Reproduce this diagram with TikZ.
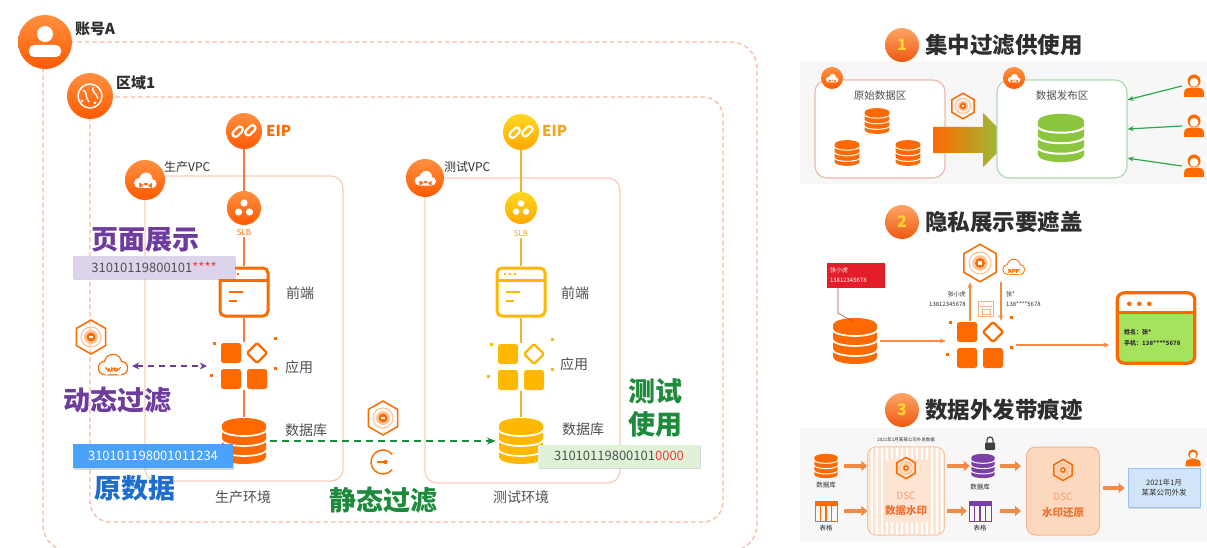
\documentclass[tikz,border=0pt]{standalone}
\usepackage{fontspec}
\setmainfont{Noto Sans CJK SC}
\usetikzlibrary{arrows.meta,shadows}

\definecolor{ali}{HTML}{FF6A00}
\definecolor{alitop}{HTML}{FF9040}
\definecolor{alibot}{HTML}{FF5A00}
\definecolor{framec}{HTML}{F9BBA2}
\definecolor{vpcc}{HTML}{FBCDBD}
\definecolor{ylw}{HTML}{FFB800}
\definecolor{ylwtop}{HTML}{FFD820}
\definecolor{ylwbot}{HTML}{FFA800}
\definecolor{ylwline}{HTML}{E9B730}
\definecolor{ylwtxt}{HTML}{F6A418}
\definecolor{prodline}{HTML}{F07A40}
\definecolor{purp}{HTML}{6E3C9C}
\definecolor{purp3}{HTML}{7B3FA8}
\definecolor{lav}{HTML}{DDD3EB}
\definecolor{bluebox}{HTML}{4AA2FA}
\definecolor{bluetxt}{HTML}{1F6DCC}
\definecolor{grn}{HTML}{1E8A3B}
\definecolor{grnbox}{HTML}{DFF2D8}
\definecolor{garr}{HTML}{2BA84A}
\definecolor{redt}{HTML}{EE3B3B}
\definecolor{redlab}{HTML}{E31E2A}
\definecolor{dark}{HTML}{2E2E2E}
\definecolor{gtxt}{HTML}{505050}
\definecolor{lime}{HTML}{8CC63F}
\definecolor{olive}{HTML}{D8A530}
\definecolor{arrowo}{HTML}{F58A45}
\definecolor{badgetop}{HTML}{FFA466}
\definecolor{badgebot}{HTML}{EE5A12}
\definecolor{badgetxt}{HTML}{FFD530}
\definecolor{srcc}{HTML}{EBB9B0}
\definecolor{dstc}{HTML}{AFD9B2}
\definecolor{wmfill}{HTML}{FDE4D3}
\definecolor{wmline}{HTML}{F7C4A6}
\definecolor{rstfill}{HTML}{FCD8BF}
\definecolor{rstline}{HTML}{F6B58C}
\definecolor{dscl}{HTML}{F7A070}
\definecolor{dscd}{HTML}{F07030}
\definecolor{blfill}{HTML}{D0E5F8}
\definecolor{blline}{HTML}{9DC3EA}
\definecolor{scrn}{HTML}{A6E35C}
\definecolor{docc}{HTML}{F3B08A}
\definecolor{thread}{HTML}{A05040}

\newcommand\fsz[1]{\fontsize{#1}{#1}\selectfont}

\tikzset{
  % database stack: colour, separator width
  pics/dbstack/.style n args={2}{code={
    \fill[#1] (-22,-16) -- (-22,16) arc[start angle=180,end angle=0,x radius=22,y radius=7]
      -- (22,-16) arc[start angle=0,end angle=-180,x radius=22,y radius=7] -- cycle;
    \foreach \yy in {-12,-2,8}
      \draw[white,line width=#2] (-23,\yy) arc[start angle=180,end angle=0,x radius=23,y radius=7];
  }},
  % application blocks: colour, diamond line width
  pics/appblk/.style n args={2}{code={
    \fill[#1,rounded corners=2.5pt] (-23,-23) rectangle (-3,-3);
    \fill[#1,rounded corners=2.5pt] (-23,3) rectangle (-3,23);
    \fill[#1,rounded corners=2.5pt] (3,3) rectangle (23,23);
    \draw[#1,line width=#2,rounded corners=1.5pt] (13,-23) -- (23,-13) -- (13,-3) -- (3,-13) -- cycle;
    \foreach \p in {(-30,-23),(31,-28),(31,2),(-33,9)}
      \fill[#1] \p ++(-1.5,-1.5) rectangle ++(3,3);
  }},
  % web front end window: colour, frame width
  pics/webwin/.style n args={2}{code={
    \draw[#1,line width=#2,rounded corners=5pt,fill=white] (-24,-24) rectangle (24,24);
    \draw[#1,line width=#2] (-24,-12) -- (24,-12);
    \draw[#1,line width=2.4pt] (-15,0) -- (-1,0) (-15,9) -- (-7,9);
    \foreach \xx in {-16,-11,-6} \fill[#1] (\xx,-18) circle (1.4);
  }},
  % security hexagon
  pics/hexic/.style={code={
    \draw[ali,line width=1.5pt] (90:17) -- (150:17) -- (210:17) -- (270:17) -- (330:17) -- (30:17) -- cycle;
    \draw[ali!45,line width=1pt] (0,0) circle (10);
    \fill[ali!40] (0,0) circle (7);
    \fill[ali] (0,0) circle (4.5);
    \fill[white] (-1.8,-1.4) rectangle (1.8,1.4);
  }},
  % cloud with APP
  pics/cloudapp/.style={code={
    \fill[ali] (-7,2) circle (7.3) (1,-3) circle (9.3) (9,2) circle (7.3) (-7,-0.3) rectangle (9,9.3);
    \fill[white] (-7,2) circle (6) (1,-3) circle (8) (9,2) circle (6) (-7,1) rectangle (9,8);
    \node[text=ali,font=\fsz{5.5}\bfseries,inner sep=0pt] (-lbl) at (1,4) {APP};
  }},
  % user figure
  pics/userp/.style={code={
    \fill[#1] (0,-5) circle (6.5);
    \fill[white] (0,-3.6) circle (4.4);
    \fill[#1] (-10,11) -- (-10,7) .. controls (-10,2) and (-6,1.5) .. (0,1.5)
      .. controls (6,1.5) and (10,2) .. (10,7) -- (10,11) -- cycle;
  }},
  % table
  pics/tbl/.style={code={
    \draw[#1,line width=1pt] (-11,-10) rectangle (11,10);
    \fill[#1] (-11,-10) rectangle (11,-5);
    \foreach \xx in {-5.5,0,5.5} \draw[#1,line width=1.3pt] (\xx,-5) -- (\xx,10);
  }},
  % padlock
  pics/lockp/.style={code={
    \draw[black!70,line width=1.3pt] (-3,0) -- (-3,-3) arc[start angle=180,end angle=360,radius=3] -- (3,0);
    \fill[black!75,rounded corners=1pt] (-5,-0.5) rectangle (5,7);
  }},
  % restore / import ring
  pics/gimport/.style={code={
    \draw[ali,line width=1.4pt] (40:12) arc[start angle=40,end angle=320,radius=12];
    \draw[ali,line width=1.4pt] (-6,0) -- (2,0);
    \fill[ali] (2.5,0) circle (2.2);
  }},
  % white glyphs for round badges
  pics/gperson/.style={code={
    \fill[white] (0,-8) circle (8);
    \fill[white,rounded corners=5pt] (-16,3) rectangle (16,15);
  }},
  pics/gglobe/.style={code={
    \draw[white,line width=1.5pt] (0,0) circle (12);
    \draw[white,line width=1.3pt] (-7,-6) .. controls (-2,-4) and (-5,2) .. (-1,6)
      (3,-9) .. controls (1,-4) and (7,-3) .. (8,3);
    \fill[white] (-8,5) circle (1.5) (5,7) circle (1.5);
  }},
  pics/gcloud/.style={code={
    \fill[white] (-6,3) circle (5) (1,-1) circle (6.5) (7,3.5) circle (4.5) (-6,3) rectangle (7,8);
  }},
  pics/geip/.style={code={
    \begin{scope}[rotate=45]
      \draw[white,line width=2.2pt,rounded corners=3pt] (-11,-7) rectangle (1,-1);
      \draw[white,line width=2.2pt,rounded corners=3pt] (-1,1) rectangle (11,7);
    \end{scope}
  }},
  pics/gslb/.style={code={
    \fill[white] (0,-5) circle (3.6) (-5.5,4) circle (3.6) (5.5,4) circle (3.6);
  }},
}

\begin{document}
\begin{tikzpicture}[x=1pt,y=-1pt,
  frame/.style={draw=framec,dash pattern=on 4.5pt off 3pt,line width=1.3pt},
  vpcbox/.style={draw=vpcc,line width=1.3pt,rounded corners=12pt},
  iconc/.style={circle,inner sep=0pt,top color=alitop,bottom color=alibot,draw=none},
  iconcy/.style={circle,inner sep=0pt,top color=ylwtop,bottom color=ylwbot,draw=none},
  slot/.style={inner sep=0pt,minimum size=#1},
  dbslot/.style={inner sep=0pt,minimum width=46pt,minimum height=48pt},
  lab/.style={inner sep=0pt,text=gtxt,font=\fsz{14}},
  bigt/.style={inner sep=0pt,font=\fsz{27}\bfseries},
  pline/.style={draw=prodline,line width=2.4pt},
  yline/.style={draw=ylwline,line width=2.4pt},
  oarrow/.style={draw=arrowo,line width=1.3pt,-{Stealth[length=6pt,width=5pt]}},
  fatarrow/.style={draw=arrowo,line width=3.5pt,-{Triangle[length=6pt,width=10pt]}},
  garrow/.style={draw=garr,line width=1.2pt,-{Stealth[length=6pt,width=5pt]}},
  badge/.style={circle,inner sep=0pt,minimum size=34pt,top color=badgetop,bottom color=badgebot,
    text=badgetxt,font=\fsz{16}\bfseries},
  ttl/.style={anchor=west,inner sep=0pt,font=\fsz{22.5}\bfseries,text=dark},
  tiny/.style={inner sep=0pt,font=\fsz{6.5},text=dark},
  databox/.style={inner sep=0pt,minimum width=162pt,minimum height=23pt,font=\fsz{13},
    drop shadow={shadow xshift=0.6pt,shadow yshift=-1.5pt,opacity=0.3}},
]
\useasboundingbox (0,0) rectangle (1207,548);
\fill[white] (0,0) rectangle (1207,548);

% ===================== account / region / VPC frames =====================
\draw[frame,rounded corners=26pt] (43,42) rectangle (757,551);
\draw[frame,rounded corners=20pt] (90,97) rectangle (723,522);
\draw[vpcbox] (145,176) rectangle (343,481);
\draw[vpcbox] (425,178) rectangle (620,483);

\node[iconc,minimum size=54pt] (acct) at (45,42) {};
\pic at (acct) {gperson};
\node[anchor=west,inner sep=0pt,font=\fsz{15}\bfseries,text=dark] (acctl) at (75,29) {账号A};
\node[iconc,minimum size=46pt] (region) at (90,96) {};
\pic at (region) {gglobe};
\node[anchor=west,inner sep=0pt,font=\fsz{15}\bfseries,text=dark] (regionl) at (116,83) {区域1};
\node[iconc,minimum size=40pt] (pvpc) at (145,180) {};
\pic at (pvpc) {gcloud};
\node[anchor=west,inner sep=0pt,font=\fsz{12},text=dark] (pvpcl) at (164,167) {生产VPC};
\node[iconc,minimum size=38pt] (tvpc) at (425,178) {};
\pic[scale=0.95] at (tvpc) {gcloud};
\node[anchor=west,inner sep=0pt,font=\fsz{12},text=dark] (tvpcl) at (444,167) {测试VPC};

% ===================== production stack =====================
\node[iconc,minimum size=36pt] (peip) at (244,131) {};
\pic at (peip) {geip};
\node[anchor=west,inner sep=0pt,font=\fsz{15}\bfseries,text=ali] (peipl) at (266,131) {EIP};
\node[iconc,minimum size=34pt] (pslb) at (244,208) {};
\pic at (pslb) {gslb};
\node[inner sep=1pt,font=\fsz{8},text=ali] (pslbl) at (244,233) {SLB};
\node[slot=52pt] (pfront) at (244,292) {};
\node[slot=48pt] (papp) at (244,366) {};
\node[dbslot] (pdb) at (244,441) {};
\draw[pline] (peip) -- (pslb);
\draw[pline] (pslbl) -- (pfront);
\draw[pline] (pfront) -- (papp);
\draw[pline] (papp) -- (pdb);
\pic at (pfront) {webwin={ali}{3pt}};
\pic at (papp) {appblk={ali}{2.2pt}};
\pic at (pdb) {dbstack={ali}{1.7pt}};
\node[lab] (pfrontl) at (300,293) {前端};
\node[lab] (pappl) at (299,367) {应用};
\node[lab] (pdbl) at (306,430) {数据库};
\node[lab] (penv) at (243,497) {生产环境};

% ===================== test stack =====================
\node[iconcy,minimum size=36pt] (teip) at (521,132) {};
\pic at (teip) {geip};
\node[anchor=west,inner sep=0pt,font=\fsz{15}\bfseries,text=ylwtxt] (teipl) at (542,131) {EIP};
\node[iconcy,minimum size=32pt] (tslb) at (521,208) {};
\pic[scale=0.9] at (tslb) {gslb};
\node[inner sep=1pt,font=\fsz{8},text=ylwtxt] (tslbl) at (521,234) {SLB};
\node[slot=52pt] (tfront) at (521,292) {};
\node[slot=48pt] (tapp) at (521,367) {};
\node[dbslot] (tdb) at (521,441) {};
\draw[yline] (teip) -- (tslb);
\draw[yline] (tslbl) -- (tfront);
\draw[yline] (tfront) -- (tapp);
\draw[yline] (tapp) -- (tdb);
\pic at (tfront) {webwin={ylw}{3pt}};
\pic at (tapp) {appblk={ylw}{2.2pt}};
\pic at (tdb) {dbstack={ylw}{1.7pt}};
\node[lab] (tfrontl) at (575,293) {前端};
\node[lab] (tappl) at (574,364) {应用};
\node[lab] (tdbl) at (583,429) {数据库};
\node[lab] (tenv) at (521,497) {测试环境};

% ===================== static filtering =====================
\node[slot=36pt] (shex) at (383,418) {};
\pic at (shex) {hexic};
\node[slot=28pt] (srot) at (383,462) {};
\pic at (srot) {gimport};
\draw[grn,line width=2pt,dash pattern=on 7pt off 5pt,-{Stealth[length=9pt,width=7pt]}]
  ([xshift=3pt]pdb.east) -- ([xshift=-2pt]tdb.west);
\node[bigt,text=grn] (sfilt) at (383,500) {静态过滤};

% ===================== dynamic filtering =====================
\node[slot=34pt] (dhex) at (91,337) {};
\pic at (dhex) {hexic};
\node[slot=32pt] (dapp) at (112,366) {};
\pic at (dapp) {cloudapp};
\draw[purp,line width=1.8pt,dash pattern=on 6pt off 5pt,
  {Stealth[length=7pt,width=7pt]}-{Stealth[length=7pt,width=7pt]},shorten <=4pt,shorten >=13pt]
  (dapp.east) -- (papp.west);

% ===================== data samples and captions =====================
\node[databox,fill=lav,text=gtxt] (maskbox) at (154,267) {31010119800101\textcolor{redt}{****}};
\node[databox,fill=bluebox,text=white,minimum width=160pt,minimum height=24pt] (rawbox) at (153,456) {310101198001011234};
\node[databox,fill=grnbox,text=gtxt] (testbox) at (619,456) {31010119800101\textcolor{redt}{0000}};
\node[bigt,text=purp] (pageshow) at (145,240) {页面展示};
\node[bigt,text=purp] (dynf) at (117,400) {动态过滤};
\node[bigt,text=bluetxt] (orig) at (135,488) {原数据};
\node[inner sep=0pt,font=\fontsize{27}{33}\selectfont\bfseries,text=grn,align=center] (testuse) at (655,408) {测试\\使用};

% ===================== panel 1: central filtering =====================
\fill[black!3] (800,61) rectangle (1207,184);
\node[badge] (b1) at (902,45) {1};
\node[ttl] (t1) at (925,45) {集中过滤供使用};
\node[draw=srcc,fill=white,line width=1.2pt,rounded corners=12pt,minimum width=130pt,minimum height=98pt,inner sep=0pt] (srcz) at (880,129) {};
\node[iconc,minimum size=22pt] (srcic) at (832,78) {};
\pic[scale=0.55] at (srcic) {gcloud};
\node[lab,font=\fsz{10.5}] (srcl) at (880,96) {原始数据区};
\node[inner sep=0pt,minimum width=25pt,minimum height=26pt] (sdb1) at (877,121) {};
\node[inner sep=0pt,minimum width=25pt,minimum height=26pt] (sdb2) at (847,153) {};
\node[inner sep=0pt,minimum width=25pt,minimum height=26pt] (sdb3) at (908,153) {};
\pic[scale=0.56] at (sdb1) {dbstack={ali}{1pt}};
\pic[scale=0.56] at (sdb2) {dbstack={ali}{1pt}};
\pic[scale=0.56] at (sdb3) {dbstack={ali}{1pt}};
\node[slot=28pt] (fhex) at (963,106) {};
\pic[scale=0.75] at (fhex) {hexic};
\shade[left color=ali,middle color=olive,right color=lime]
  (933,127) -- (983,127) -- (983,113) -- (1010,140) -- (983,167) -- (983,153) -- (933,153) -- cycle;
\node[draw=dstc,fill=white,line width=1.2pt,rounded corners=12pt,minimum width=130pt,minimum height=98pt,inner sep=0pt] (dstz) at (1062,129) {};
\node[iconc,minimum size=22pt] (dstic) at (1014,78) {};
\pic[scale=0.55] at (dstic) {gcloud};
\node[lab,font=\fsz{10.5}] (dstl) at (1062,96) {数据发布区};
\node[inner sep=0pt,minimum width=47pt,minimum height=50pt] (gdb) at (1061,138) {};
\pic[scale=1.05] at (gdb) {dbstack={lime}{2pt}};
\node[slot=24pt] (u1) at (1194,86) {};
\node[slot=24pt] (u2) at (1194,126) {};
\node[slot=24pt] (u3) at (1194,166) {};
\pic at (u1) {userp=ali};
\pic at (u2) {userp=ali};
\pic at (u3) {userp=ali};
\draw[garrow] (u1.west) -- (dstz.24);
\draw[garrow] (u2.west) -- (dstz.east);
\draw[garrow] (u3.west) -- (dstz.-24);

% ===================== panel 2: masking on display =====================
\node[badge] (b2) at (902,222) {2};
\node[ttl] (t2) at (925,222) {隐私展示要遮盖};
\node[dbslot] (db2) at (855,341) {};
\pic at (db2) {dbstack={ali}{1.7pt}};
\node[fill=redlab,text width=52pt,inner sep=3pt,minimum height=25pt,text=white,
  font=\fontsize{6}{10}\selectfont,align=left] (redl) at (856,275) {张小虎\\13812345678};
\coordinate (rbend) at (838,313);
\coordinate (rend) at (852,321);
\draw[draw=thread,line width=0.6pt] (redl.south -| rbend) -- (rbend) -- (rend);
\node[slot=48pt] (app2) at (980,345) {};
\pic at (app2) {appblk={ali}{2.2pt}};
\node[slot=38pt] (hex2) at (980,263) {};
\pic[scale=1.1] at (hex2) {hexic};
\node[slot=24pt] (cl2) at (1013,268) {};
\pic[scale=0.75] at (cl2) {cloudapp};
\node[draw=docc,fill=white,line width=0.8pt,minimum width=15pt,minimum height=15pt,inner sep=0pt] (doc2) at (986,309) {};
\draw[docc,line width=0.6pt] (980,306) -- (992,306);
\draw[docc,line width=0.6pt] (982,309) rectangle (990,314);
\draw[oarrow] ([xshift=-10pt]app2.north) -- ([xshift=-10pt]hex2.south);
\draw[oarrow] ([xshift=21pt]hex2.south) -- ([xshift=21pt]app2.north);
\node[tiny,anchor=east,align=right,font=\fontsize{6}{10}\selectfont] (lt2) at (966,299) {张小虎\\13812345678};
\node[tiny,anchor=west,align=left,font=\fontsize{6}{10}\selectfont] (rt2) at (1006,299) {张*\\138****5678};
\draw[oarrow,shorten <=2pt,shorten >=10pt] (db2.east) -- (app2.west |- db2.east);
\node[inner sep=0pt,minimum width=77pt,minimum height=70pt] (brw) at (1156,328) {};
\begin{scope}
  \clip[rounded corners=7pt] (brw.north west) rectangle (brw.south east);
  \fill[scrn] (brw.north west) rectangle (brw.south east);
  \fill[white] (brw.north west) rectangle ([yshift=-20pt]brw.north east);
\end{scope}
\draw[ali,line width=3.2pt,rounded corners=7pt] (brw.north west) rectangle (brw.south east);
\draw[ali,line width=3pt] ([yshift=-20pt]brw.north west) -- ([yshift=-20pt]brw.north east);
\foreach \dx in {12,22,32} \fill[ali] ([xshift=\dx pt,yshift=-11pt]brw.north west) circle (2.3);
\node[tiny,anchor=west,font=\fsz{6}\bfseries] (bt1) at (1124,332) {姓名：张*};
\node[tiny,anchor=west,font=\fsz{6}\bfseries] (bt2) at (1124,343) {手机：138****5678};
\draw[oarrow,shorten <=12pt,shorten >=8pt] (app2.east) -- (brw.west |- app2.east);

% ===================== panel 3: watermark on export =====================
\fill[black!3] (800,428) rectangle (1207,541);
\node[badge] (b3) at (902,410) {3};
\node[ttl] (t3) at (925,410) {数据外发带痕迹};
\node[inner sep=0pt,minimum width=24pt,minimum height=25pt] (ldb3) at (826,466) {};
\pic[scale=0.53] at (ldb3) {dbstack={ali}{1pt}};
\node[tiny] (ldb3l) at (826,485) {数据库};
\node[inner sep=0pt,minimum width=24pt,minimum height=22pt] (ltb3) at (826,511) {};
\pic at (ltb3) {tbl=ali};
\node[tiny] (ltb3l) at (826,528) {表格};

\node[fill=wmfill,rounded corners=9pt,minimum width=77pt,minimum height=88pt,inner sep=0pt] (wm) at (906,491) {};
\begin{scope}
  \clip[rounded corners=9pt] (wm.north west) rectangle (wm.south east);
  \foreach \xx in {872,877,...,942} \draw[white,line width=1.3pt] (\xx,447) -- (\xx,535);
\end{scope}
\fill[wmfill,rounded corners=5pt] (884,459) rectangle (930,522);
\draw[wmline,line width=1pt,rounded corners=9pt] (wm.north west) rectangle (wm.south east);
\node[slot=24pt] (wmhex) at (906,468) {};
\pic[scale=0.62] at (wmhex) {hexic};
\node[inner sep=0pt,font=\fsz{10},text=dscl] (wmdsc) at (906,496) {DSC};
\node[inner sep=0pt,font=\fsz{10.5}\bfseries,text=dscd] (wmname) at (906,511) {数据水印};
\node[tiny,font=\fsz{4.5}] (wmt) at (906,440) {2021年1月某某公司外发数据};
\draw[fatarrow,shorten <=6pt] (ldb3.east) -- (wm.west |- ldb3.east);
\draw[fatarrow,shorten <=6pt] (ltb3.east) -- (wm.west |- ltb3.east);

\node[inner sep=0pt,minimum width=24pt,minimum height=25pt] (pdb3) at (983,466) {};
\pic[scale=0.53] at (pdb3) {dbstack={purp3}{1pt}};
\node[slot=14pt] (lock) at (990,443) {};
\pic at (lock) {lockp};
\node[tiny] (pdb3l) at (980,487) {数据库};
\node[inner sep=0pt,minimum width=24pt,minimum height=22pt] (ptb3) at (980,511) {};
\pic at (ptb3) {tbl=purp3};
\node[tiny] (ptb3l) at (980,528) {表格};
\draw[fatarrow,shorten <=2pt,shorten >=1pt] (wm.east |- pdb3.west) -- (pdb3.west);
\draw[fatarrow,shorten <=2pt,shorten >=1pt] (wm.east |- ptb3.west) -- (ptb3.west);

\node[draw=rstline,fill=rstfill,line width=1pt,rounded corners=9pt,minimum width=73pt,minimum height=88pt,inner sep=0pt] (rst) at (1063,491) {};
\node[slot=24pt] (rsthex) at (1063,470) {};
\pic[scale=0.62] at (rsthex) {hexic};
\node[inner sep=0pt,font=\fsz{10},text=dscl] (rstdsc) at (1063,497) {DSC};
\node[inner sep=0pt,font=\fsz{10.5}\bfseries,text=dscd] (rstname) at (1063,513) {水印还原};
\draw[fatarrow,shorten <=5pt,shorten >=5pt] (pdb3.east) -- (rst.west |- pdb3.east);
\draw[fatarrow,shorten <=8pt,shorten >=5pt] (ptb3.east) -- (rst.west |- ptb3.east);

\node[draw=blline,fill=blfill,line width=1pt,minimum width=72pt,minimum height=39pt,inner sep=0pt,
  align=center,font=\fontsize{7.5}{10}\selectfont,text=dark,
  drop shadow={shadow xshift=0.8pt,shadow yshift=-1.2pt,opacity=0.25}] (bl3) at (1164,488) {2021年1月\\某某公司外发};
\draw[fatarrow,shorten <=3pt,shorten >=3pt] (rst.east |- bl3.west) -- (bl3.west);
\node[slot=18pt] (u4) at (1193,458) {};
\pic[scale=0.75] at (u4) {userp=ali};
\end{tikzpicture}
\end{document}
